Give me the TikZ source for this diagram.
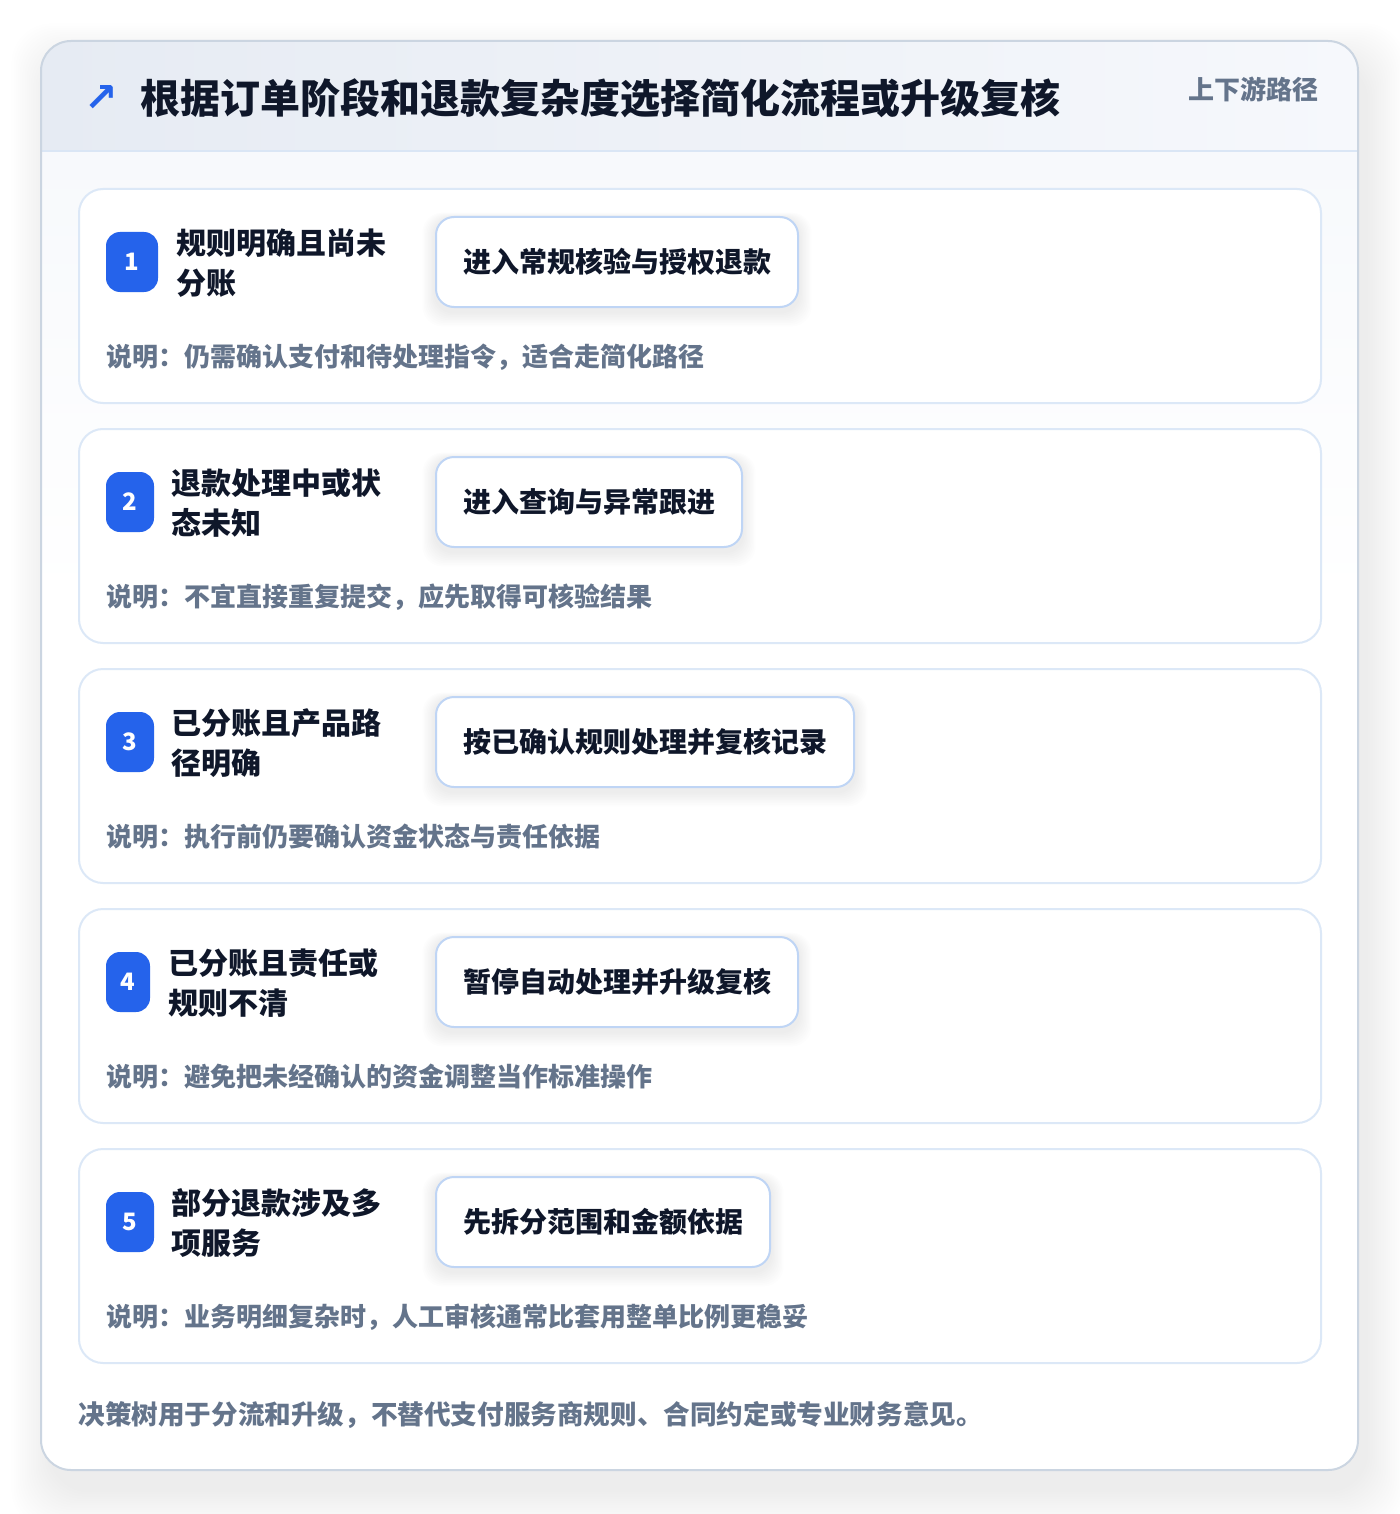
\documentclass[tikz,border=0pt]{standalone}
\usepackage{fontspec}
\setmainfont{Noto Sans CJK SC}
\newfontfamily\dejavu{DejaVu Sans}
\definecolor{accent}{HTML}{2563EB}
\definecolor{ink}{HTML}{0F172A}
\definecolor{muted}{HTML}{64748B}
\definecolor{outerline}{HTML}{CBD5E1}
\definecolor{cardline}{HTML}{DCE8F7}
\definecolor{actline}{HTML}{BFD5F5}
\definecolor{hdrL}{HTML}{E6EBF3}
\definecolor{hdrR}{HTML}{F6F8FC}
\definecolor{sepline}{HTML}{DAE6F5}
\definecolor{bodytop}{HTML}{F7F9FC}
\pgfdeclarelayer{bg}
\pgfdeclarelayer{cards}
\pgfdeclarelayer{shadow}
\pgfsetlayers{bg,cards,shadow,main}
\begin{document}
\begin{tikzpicture}[x=0.5pt,y=-0.5pt,
  cardbox/.style={draw=cardline, line width=1pt, fill=white, rounded corners=12pt},
  badge/.style={fill=accent, rounded corners=7pt, minimum height=30pt, inner sep=0pt, text=white, font=\bfseries\fontsize{12}{14}\selectfont},
  labeltxt/.style={anchor=west, align=left, inner sep=0pt, text=ink, font=\bfseries\fontsize{15}{20}\selectfont},
  actionbox/.style={draw=actline, line width=1pt, fill=white, rounded corners=9pt, minimum height=45pt, inner xsep=13.5pt, inner ysep=0pt, text=ink, font=\bfseries\fontsize{14}{16}\selectfont, anchor=west},
  notetxt/.style={anchor=west, inner sep=0pt, text=muted, font=\bfseries\fontsize{13}{15}\selectfont}]
\useasboundingbox (0,0) rectangle (1400,1514);
\begin{pgfonlayer}{bg}
\fill[white] (0,0) rectangle (1400,1514);
% outer shadow
\foreach \k in {1,...,18} {
  \fill[black, opacity=0.005, rounded corners=20pt] (51-\k*2.2, 63-\k*2.2) rectangle (1366+\k*2.2, 1490+\k*2.2);
}
% outer card
\fill[white, rounded corners=15pt] (41,41) rectangle (1358,1470);
\begin{scope}
  \clip[rounded corners=15pt] (41,41) rectangle (1358,1470);
  \shade[top color=bodytop, bottom color=white] (41,151) rectangle (1358,600);
  \shade[left color=hdrL, right color=hdrR] (41,41) rectangle (1358,151);
\end{scope}
\draw[sepline, line width=1pt] (41,151) -- (1358,151);
\draw[outerline, line width=1pt, rounded corners=15pt] (41,41) rectangle (1358,1470);
\end{pgfonlayer}
% header
\node[text=accent, font=\dejavu\bfseries\fontsize{20}{22}\selectfont, inner sep=0pt] (icon) at (101,99) {↗};
\node[anchor=west, inner sep=0pt, text=ink, font=\bfseries\fontsize{20}{24}\selectfont] (title) at (140,98) {根据订单阶段和退款复杂度选择简化流程或升级复核};
\node[anchor=east, inner sep=0pt, text=muted, font=\bfseries\fontsize{13}{15}\selectfont] (tag) at (1319,89) {上下游路径};
% cards
\foreach \i/\bw/\lx/\la/\lb/\act/\note in {
  1/26/176/规则明确且尚未/分账/进入常规核验与授权退款/说明：仍需确认支付和待处理指令，适合走简化路径,
  2/24/171/退款处理中或状/态未知/进入查询与异常跟进/说明：不宜直接重复提交，应先取得可核验结果,
  3/24/171/已分账且产品路/径明确/按已确认规则处理并复核记录/说明：执行前仍要确认资金状态与责任依据,
  4/22/168/已分账且责任或/规则不清/暂停自动处理并升级复核/说明：避免把未经确认的资金调整当作标准操作,
  5/24/171/部分退款涉及多/项服务/先拆分范围和金额依据/说明：业务明细复杂时，人工审核通常比套用整单比例更稳妥} {
  \pgfmathsetmacro{\yo}{189+240*(\i-1)}
  \begin{pgfonlayer}{cards}
  \draw[cardbox] (79,\yo) rectangle (1321,\yo+214);
  \end{pgfonlayer}
  \node[badge, minimum width=\bw pt] (b\i) at (106+\bw,\yo+73) {\i};
  \node[labeltxt] (l\i) at (\lx,\yo+74) {\la\\\lb};
  \node[actionbox] (a\i) at (435,\yo+73) {\act};
  \begin{pgfonlayer}{shadow}
  \foreach \k in {1,...,9} {
    \fill[black, opacity=0.009, rounded corners=10pt]
      ([xshift=-\k*0.7pt, yshift=-2pt-\k*0.8pt]a\i.south west) rectangle ([xshift=\k*0.7pt, yshift=-1pt+\k*0.3pt]a\i.north east);
  }
  \end{pgfonlayer}
  \node[notetxt] (n\i) at (106,\yo+168) {\note};
}
% footer
\node[anchor=west, inner sep=0pt, text=muted, font=\bfseries\fontsize{13.3}{15}\selectfont] (foot) at (78,1415) {决策树用于分流和升级，不替代支付服务商规则、合同约定或专业财务意见。};
\end{tikzpicture}
\end{document}
